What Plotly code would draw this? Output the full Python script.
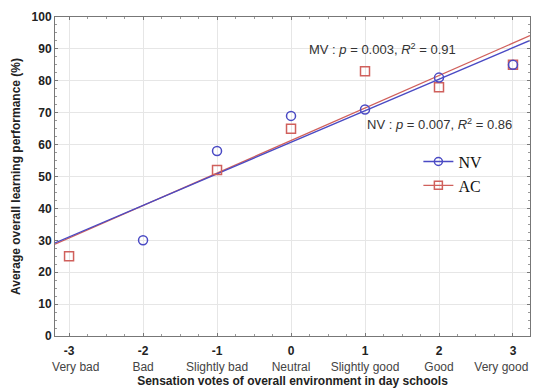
import numpy as np
import plotly.graph_objects as go

# ---- data ----
tick_vals = [-3, -2, -1, 0, 1, 2, 3]
tick_names = ["Very bad", "Bad", "Slightly bad", "Neutral", "Slightly good", "Good", "Very good"]

nv_x = [-2, -1, 0, 1, 2, 3]
nv_y = [30, 58, 69, 71, 81, 85]

ac_x = [-3, -1, 0, 1, 2, 3]
ac_y = [25, 52, 65, 83, 78, 85]

x_range = [-3.19, 3.23]
y_range = [0, 100]

BLUE = "#4a4ac4"
RED = "#d0605c"

# linear fits
nv_fit = np.polyfit(nv_x, nv_y, 1)
ac_fit = np.polyfit(ac_x, ac_y, 1)
xx = np.array(x_range)

fig = go.Figure()
fig.add_trace(go.Scatter(x=xx, y=np.polyval(ac_fit, xx), mode="lines",
                         line=dict(color=RED, width=1.3), showlegend=False))
fig.add_trace(go.Scatter(x=xx, y=np.polyval(nv_fit, xx), mode="lines",
                         line=dict(color=BLUE, width=1.3), showlegend=False))
fig.add_trace(go.Scatter(x=ac_x, y=ac_y, mode="markers", showlegend=False,
                         marker=dict(symbol="square-open", size=9, color=RED,
                                     line=dict(width=1.5, color=RED))))
fig.add_trace(go.Scatter(x=nv_x, y=nv_y, mode="markers", showlegend=False,
                         marker=dict(symbol="circle-open", size=9, color=BLUE,
                                     line=dict(width=1.5, color=BLUE))))
# legend entries
fig.add_trace(go.Scatter(x=[None], y=[None], mode="lines+markers", name="NV",
                         line=dict(color=BLUE, width=1.3),
                         marker=dict(symbol="circle-open", size=8, color=BLUE, line=dict(width=1.5))))
fig.add_trace(go.Scatter(x=[None], y=[None], mode="lines+markers", name="AC",
                         line=dict(color=RED, width=1.3),
                         marker=dict(symbol="square-open", size=8, color=RED, line=dict(width=1.5))))


def name_label(i, n):
    # edge labels are nudged inward so they stay inside the frame, as in the original
    if i == 0:
        n = "&nbsp;" * 4 + n
    elif i == len(tick_names) - 1:
        n = n + "&nbsp;" * 7
    return "<span style='font-size:12px;color:#444444'>%s</span>" % n


ticktext = ["<b>%d</b><br>%s" % (v, name_label(i, n))
            for i, (v, n) in enumerate(zip(tick_vals, tick_names))]

fig.update_layout(
    width=533, height=390,
    margin=dict(l=55, r=3, t=17, b=54),
    paper_bgcolor="white", plot_bgcolor="white",
    font=dict(family="Liberation Sans, Arial, sans-serif", color="#222222", size=12),
    legend=dict(x=0.765, y=0.6, xanchor="left", yanchor="top",
                bgcolor="rgba(0,0,0,0)", tracegroupgap=0, itemwidth=30,
                font=dict(family="Liberation Serif, Times New Roman, serif", size=16, color="#111111")),
    xaxis=dict(range=x_range, tickvals=tick_vals, ticktext=ticktext, automargin=False,
               ticklabeloverflow="allow", ticklabelstandoff=4,
               showgrid=True, gridcolor="#e6e6e6", zeroline=False,
               showline=True, linecolor="#777777", linewidth=1, mirror="ticks",
               ticks="inside", ticklen=3, tickcolor="#777777",
               minor=dict(ticks="inside", ticklen=2, tickcolor="#999999", dtick=0.25, showgrid=False),
               tickfont=dict(size=12, color="#222222"),
               title=dict(text="<b>Sensation votes of overall environment in day schools</b>",
                          font=dict(size=12, color="#222222"), standoff=2)),
    yaxis=dict(range=y_range, dtick=10, automargin=False,
               showgrid=True, gridcolor="#e6e6e6", zeroline=False,
               showline=True, linecolor="#777777", linewidth=1, mirror="ticks",
               ticks="inside", ticklen=3, tickcolor="#777777",
               minor=dict(ticks="inside", ticklen=2, tickcolor="#999999", dtick=2.5, showgrid=False),
               tickfont=dict(size=12, color="#222222", family="Liberation Sans, Arial, sans-serif"),
               tickprefix="<b>", ticksuffix="</b>",
               title=dict(text="<b>Average overall learning performance (%)</b>",
                          font=dict(size=12, color="#222222"), standoff=8)),
)

fig.add_annotation(x=0.22, y=89.9, xanchor="left", yanchor="middle", showarrow=False,
                   text="MV : <i>p</i> = 0.003, <i>R</i><sup>2</sup> = 0.91",
                   font=dict(size=13, color="#333333"))
fig.add_annotation(x=1.0, y=66.5, xanchor="left", yanchor="middle", showarrow=False,
                   text="NV : <i>p</i> = 0.007, <i>R</i><sup>2</sup> = 0.86",
                   font=dict(size=13, color="#333333"))

fig.write_html("out.html")
